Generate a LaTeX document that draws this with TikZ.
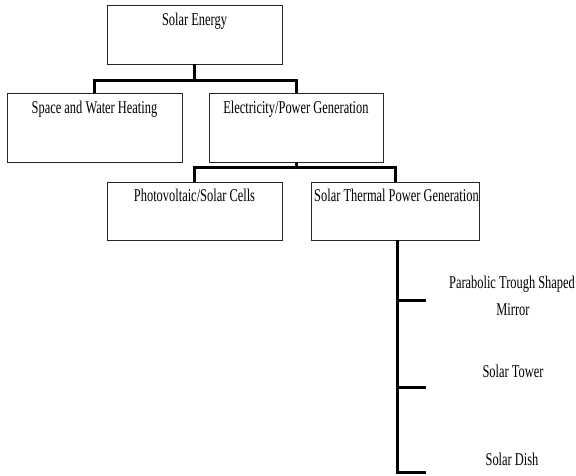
\documentclass[tikz,border=0pt]{standalone}
\usepackage{fontspec}
\setmainfont{Liberation Serif}[FakeStretch=0.69]
\begin{document}
\begin{tikzpicture}[x=1pt,y=-1pt,
  box/.style={draw=black!85,line width=0.9pt,rectangle,inner sep=0pt},
  lbl/.style={anchor=base,inner sep=0pt,font=\fontsize{18}{21}\selectfont},
  conn/.style={line width=3pt}]
\useasboundingbox (0,0) rectangle (576,476);
% boxes
\node[box,minimum width=175pt,minimum height=59pt] (se) at (194.5,34.5) {};
\node[box,minimum width=175pt,minimum height=69pt] (sw) at (94.5,127.5) {};
\node[box,minimum width=174pt,minimum height=69pt] (el) at (296,127.5) {};
\node[box,minimum width=175pt,minimum height=58pt] (pv) at (194.5,211) {};
\node[box,minimum width=168pt,minimum height=58pt] (st) at (395,211) {};
% box labels
\node[lbl] (tse) at ([yshift=-21pt]se.north) {Solar Energy};
\node[lbl] (tsw) at ([yshift=-21pt]sw.north) {Space and Water Heating};
\node[lbl] (tel) at ([yshift=-21pt]el.north) {Electricity/Power Generation};
\node[lbl] (tpv) at ([yshift=-20pt]pv.north) {Photovoltaic/Solar Cells};
\node[lbl] (tst) at ([xshift=1.5pt,yshift=-20pt]st.north) {Solar Thermal Power Generation};
% side labels
\node[lbl] (tpa) at (512,288) {Parabolic Trough Shaped};
\node[lbl] (tmi) at (513,315) {Mirror};
\node[lbl] (tto) at (513,377) {Solar Tower};
\node[lbl] (tdi) at (512,465) {Solar Dish};
% connectors
\coordinate (b1) at (194.5,81);
\coordinate (b2) at (296,168);
\draw[conn] (se.south) -- (b1);
\draw[conn] (b1) -| (sw.north);
\draw[conn] (b1) -| (el.north);
\draw[conn] (el.south) -- (b2);
\draw[conn] (b2) -| (pv.north);
\draw[conn] (b2) -| (st.north);
\coordinate (v0) at (397,240);
\coordinate (v1) at (397,300);
\coordinate (v2) at (397,387);
\coordinate (v3) at (397,472);
\coordinate (e1) at (426,300);
\coordinate (e2) at (426,387);
\coordinate (e3) at (426,472);
\draw[conn] (st.south -| v0) -- ([yshift=-1.5pt]v3);
\draw[conn] ([xshift=-1.5pt]v1) -- (e1);
\draw[conn] ([xshift=-1.5pt]v2) -- (e2);
\draw[conn] ([xshift=-1.5pt]v3) -- (e3);
\end{tikzpicture}
\end{document}
